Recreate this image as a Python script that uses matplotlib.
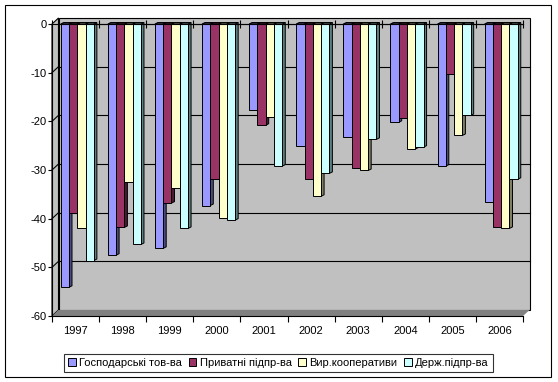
import numpy as np
import matplotlib
matplotlib.use('Agg')
import matplotlib.pyplot as plt
from matplotlib.patches import Polygon, Rectangle

# =============================================================================
# Define variables
# =============================================================================
years = ['1997', '1998', '1999', '2000', '2001',
         '2002', '2003', '2004', '2005', '2006']
series_names = ['Господарські тов-ва', 'Приватні підпр-ва',
                'Вир.кооперативи', 'Держ.підпр-ва']
gosp = [-54.1, -47.5, -46.1, -37.3, -17.7, -25.1, -23.3, -20.2, -29.2, -36.6]
pryv = [-38.9, -41.8, -36.8, -31.9, -20.8, -31.9, -29.5, -19.3, -10.3, -41.8]
vyr = [-42.0, -32.5, -33.8, -39.8, -19.2, -35.4, -30.1, -25.7, -22.9, -42.0]
derzh = [-48.6, -45.3, -42.0, -40.3, -29.2, -30.7, -23.7, -25.3, -18.8, -31.9]
series = [gosp, pryv, vyr, derzh]

front_cols = ['#9999FF', '#993366', '#FFFFCC', '#CCFFFF']
side_cols = ['#4C4C80', '#4C1933', '#808066', '#5F8080']

W, H = 558, 382
AX_L, AX_R, AX_T, AX_B = 52, 523, 24, 316
YMIN, YMAX = -60, 0
NCAT = len(years)

# pixel -> data scale
sx = NCAT / (AX_R - AX_L)
sy = (YMAX - YMIN) / (AX_B - AX_T)
# wall depth and bar depth (pixels)
wdx, wdy = 6.5 * sx, 6.0 * sy
bdx, bdy = 3.0 * sx, 1.5 * sy

BAR_OFF = 0.185
BAR_W = 0.176

plt.rcParams['font.family'] = ['Liberation Sans', 'DejaVu Sans']
plt.rcParams['axes.unicode_minus'] = False

# =============================================================================
# Start of code
# =============================================================================
if __name__ == "__main__":
    fig = plt.figure(figsize=(W / 100, H / 100), dpi=100)
    ax = fig.add_axes([AX_L / W, 1 - AX_B / H,
                       (AX_R - AX_L) / W, (AX_B - AX_T) / H])
    ax.set_xlim(0, NCAT)
    ax.set_ylim(YMIN, YMAX)
    ax.patch.set_visible(False)

    # ------------------------------------------------------------------
    # walls and floor
    back = Polygon([(wdx, YMIN + wdy), (NCAT + wdx, YMIN + wdy),
                    (NCAT + wdx, YMAX + wdy), (wdx, YMAX + wdy)],
                   closed=True, facecolor='#C0C0C0', edgecolor='black',
                   lw=0.8, clip_on=False, zorder=0)
    ax.add_patch(back)
    side = Polygon([(0, YMIN), (wdx, YMIN + wdy), (wdx, YMAX + wdy),
                    (0, YMAX)], closed=True, facecolor='#C0C0C0',
                   edgecolor='black', lw=0.8, clip_on=False, zorder=0.1)
    ax.add_patch(side)
    floor = Polygon([(0, YMIN), (NCAT, YMIN), (NCAT + wdx, YMIN + wdy),
                     (wdx, YMIN + wdy)], closed=True, facecolor='#808080',
                    edgecolor='none', lw=0.8, clip_on=False, zorder=0.2)
    ax.add_patch(floor)

    # gridlines on back and side walls
    for yv in range(YMIN + 10, YMAX, 10):
        ax.plot([wdx, NCAT + wdx], [yv + wdy, yv + wdy], color='black',
                lw=0.8, clip_on=False, zorder=0.3)
        ax.plot([0, wdx], [yv, yv + wdy], color='black', lw=0.8,
                clip_on=False, zorder=0.3)

    # ------------------------------------------------------------------
    # bars with pseudo-3D faces
    z = 1.0
    for c in range(NCAT):
        for i, vals in enumerate(series):
            x0 = c + BAR_OFF + i * BAR_W
            v = vals[c]
            x1 = x0 + BAR_W
            sface = Polygon([(x1, 0), (x1 + bdx, bdy), (x1 + bdx, v + bdy),
                             (x1, v)], closed=True, facecolor=side_cols[i],
                            edgecolor='black', lw=0.7, clip_on=False,
                            zorder=z)
            ax.add_patch(sface)
            tface = Polygon([(x0, 0), (x1, 0), (x1 + bdx, bdy),
                             (x0 + bdx, bdy)], closed=True,
                            facecolor=side_cols[i], edgecolor='black',
                            lw=0.7, clip_on=False, zorder=z)
            ax.add_patch(tface)
            ax.bar(x0, v, width=BAR_W, align='edge', color=front_cols[i],
                   edgecolor='black', lw=0.7, zorder=z + 0.01,
                   label=series_names[i] if c == 0 else None)
            z += 0.02

    # ------------------------------------------------------------------
    # axes
    ax.spines['right'].set_visible(False)
    for s in ['left', 'bottom', 'top']:
        ax.spines[s].set_linewidth(0.8)
    ax.set_yticks(np.arange(YMIN, YMAX + 1, 10))
    ax.tick_params(axis='y', length=3, width=0.8, pad=1, labelsize=8)
    ax.set_xticks(np.arange(NCAT + 1))
    ax.set_xticklabels([])
    ax.tick_params(axis='x', which='major', length=4, width=0.8,
                   direction='out')
    ax.set_xticks(np.arange(NCAT) + 0.5, minor=True)
    ax.set_xticklabels(years, minor=True)
    ax.tick_params(axis='x', which='minor', length=0, pad=7, labelsize=8)
    sec = ax.secondary_xaxis('top')
    sec.set_xticks(np.arange(NCAT + 1))
    sec.tick_params(direction='inout', length=6, width=0.8, labeltop=False)
    sec.spines['top'].set_linewidth(0.8)

    # ------------------------------------------------------------------
    # legend
    leg = fig.legend(loc='center', bbox_to_anchor=(0.499, 1 - 363 / H),
                     ncol=4, fontsize=8, frameon=True, fancybox=False,
                     edgecolor='black', handlelength=0.7, handleheight=0.7,
                     handletextpad=0.3, columnspacing=0.6, borderpad=0.35,
                     borderaxespad=0)
    leg.get_frame().set_linewidth(0.8)
    for h in leg.legend_handles:
        h.set_linewidth(0.7)

    # outer border
    fig.patches.append(Rectangle((5 / W, 1 - 377 / H), 546 / W, 372 / H,
                                 transform=fig.transFigure, fill=False,
                                 edgecolor='black', lw=0.8))

    fig.savefig('out.png', dpi=100)
    plt.close()
